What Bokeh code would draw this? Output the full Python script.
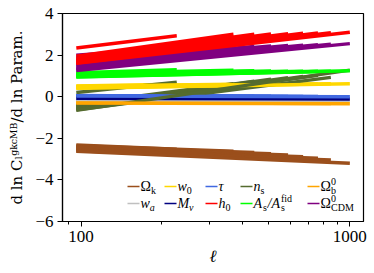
import numpy as np
from bokeh.plotting import figure
from bokeh.models import (FixedTicker, NumeralTickFormatter, Label, BoxAnnotation,
                          Range1d, ColumnDataSource)
from bokeh.embed import file_html
from bokeh.resources import INLINE

# ---------------- data ----------------
ell_min = 96
ell_max_bins = [227, 369, 441, 509, 589, 670, 761, 850, 1000]

omk_start = [-2.32, -2.36, -2.40, -2.44, -2.48, -2.52, -2.56, -2.60, -2.63]
omk_end = [-2.52, -2.62, -2.68, -2.74, -2.80, -2.88, -2.96, -3.04, -3.20]
wa_start = [-0.10, -0.11, -0.12, -0.12, -0.13, -0.13, -0.14, -0.14, -0.15]
wa_end = [-0.14, -0.15, -0.16, -0.17, -0.17, -0.18, -0.18, -0.19, -0.19]
w0_start = [0.52, 0.50, 0.48, 0.47, 0.46, 0.45, 0.44, 0.42, 0.40]
w0_end = [0.60, 0.60, 0.60, 0.60, 0.61, 0.61, 0.61, 0.62, 0.62]
mnu_start = [-0.05, -0.05, -0.06, -0.06, -0.06, -0.07, -0.07, -0.07, -0.08]
mnu_end = [-0.08, -0.09, -0.09, -0.09, -0.10, -0.10, -0.10, -0.11, -0.11]
tau_start = [0.06, 0.05, 0.05, 0.05, 0.04, 0.04, 0.04, 0.03, 0.03]
tau_end = [0.03, 0.02, 0.02, 0.02, 0.01, 0.01, 0.01, 0.00, 0.00]
h0_start = [2.34, 1.95, 1.85, 1.78, 1.72, 1.68, 1.64, 1.62, 1.60]
h0_end = [2.93, 3.00, 3.00, 3.02, 3.03, 3.05, 3.07, 3.08, 3.10]
ns_start = [0.20, -0.36, -0.42, -0.47, -0.52, -0.56, -0.60, -0.63, -0.66]
ns_end = [0.70, 0.62, 0.74, 0.84, 0.92, 0.98, 1.03, 0.93, 1.28]
As_start = [1.15, 1.12, 1.08, 1.05, 1.02, 1.00, 0.98, 0.96, 0.94]
As_end = [1.30, 1.27, 1.25, 1.24, 1.23, 1.22, 1.22, 1.22, 1.25]
omb_start = [-0.06, -0.10, -0.14, -0.18, -0.21, -0.24, -0.26, -0.28, -0.30]
omb_end = [-0.20, -0.24, -0.26, -0.28, -0.30, -0.31, -0.32, -0.33, -0.34]
omc_start = [2.00, 1.85, 1.72, 1.62, 1.52, 1.44, 1.37, 1.31, 1.26]
omc_end = [2.35, 2.40, 2.42, 2.44, 2.46, 2.48, 2.50, 2.52, 2.55]

param_keys = ["omk", "wa", "w0", "mnu", "tau", "h0", "ns", "As", "omb", "omc"]
param_start = [omk_start, wa_start, w0_start, mnu_start, tau_start,
               h0_start, ns_start, As_start, omb_start, omc_start]
param_end = [omk_end, wa_end, w0_end, mnu_end, tau_end,
             h0_end, ns_end, As_end, omb_end, omc_end]
param_colors = ["#9b4f1c", "#c0c0c0", "#ffd700", "#000080", "#4169e1",
                "#ff0000", "#556b2f", "#00ff00", "#ffa500", "#800080"]

y_ticks = [-6, -4, -2, 0, 2, 4]
x_ticks = [100, 1000]
x_minor = [90, 200, 300, 400, 500, 600, 700, 800, 900]

FONT = "Liberation Serif"

# ---------------- figure ----------------
p = figure(width=374, height=273, x_axis_type="log",
           x_range=Range1d(85.3, 1124), y_range=Range1d(-6, 4),
           output_backend="svg", toolbar_location=None,
           min_border_left=62, min_border_right=11,
           min_border_top=13, min_border_bottom=52)

for b, lmax in enumerate(ell_max_bins):
    xs, ys, cs = [], [], []
    for k in range(len(param_keys)):
        xs.append([ell_min, lmax])
        ys.append([param_start[k][b], param_end[k][b]])
        cs.append(param_colors[k])
    src = ColumnDataSource(dict(xs=xs, ys=ys, color=cs))
    p.multi_line(xs="xs", ys="ys", line_color="color", line_width=3.4,
                 line_cap="butt", source=src)

p.xgrid.visible = False
p.ygrid.visible = False
p.outline_line_color = "black"
p.outline_line_width = 1.2
p.background_fill_color = "white"
p.border_fill_color = "white"

p.xaxis.ticker = FixedTicker(ticks=x_ticks, minor_ticks=x_minor)
p.xaxis.formatter = NumeralTickFormatter(format="0")
p.yaxis.ticker = FixedTicker(ticks=y_ticks)
p.yaxis.major_label_overrides = {t: (str(t).replace("-", "\u2212")) for t in y_ticks}

for ax in (p.xaxis[0], p.yaxis[0]):
    ax.axis_line_color = "black"
    ax.axis_line_width = 1.2
    ax.major_tick_line_color = "black"
    ax.major_tick_in = 0
    ax.major_tick_out = 5
    ax.minor_tick_in = 0
    ax.minor_tick_out = 3
    ax.major_label_text_font = FONT
    ax.major_label_text_font_size = "17px"
    ax.major_label_text_color = "black"
    ax.axis_label_text_font = FONT
    ax.axis_label_text_font_size = "17px"
    ax.axis_label_text_color = "black"
    ax.axis_label_text_font_style = "normal"

p.yaxis.minor_tick_line_color = None
p.yaxis.major_label_standoff = 4
p.xaxis.major_label_standoff = 4
p.xaxis.axis_label = "\u2113"
p.xaxis.axis_label_text_font_style = "italic"
p.xaxis.axis_label_standoff = 2
p.yaxis.axis_label = "d ln C\u2097\u1d4d\u1d4f\u1d9c\u1d39\u1d2e/d ln Param."
p.yaxis.axis_label_text_font = "DejaVu Serif"
p.yaxis.axis_label_text_font_size = "15px"
p.yaxis.axis_label_standoff = 6

# ---------------- legend (screen units, relative to frame) ----------------
col_x = [65, 102, 143, 178, 245]
row_y = [35, 18]
leg_order = [0, 2, 4, 6, 8, 1, 3, 5, 7, 9]
leg_texts = {
    0: [(0, 0, "\u03a9", 14, "normal"), (10.5, -4, "k", 10, "normal")],
    1: [(0, 0, "w", 14, "italic"), (9.3, -4, "a", 10, "italic")],
    2: [(0, 0, "w", 14, "italic"), (9.3, -4, "0", 10, "normal")],
    3: [(0, 0, "M", 14, "italic"), (11.5, -4, "\u03bd", 10, "italic")],
    4: [(0, 0, "\u03c4", 14, "italic")],
    5: [(0, 0, "h", 14, "italic"), (7, -4, "0", 10, "normal")],
    6: [(0, 0, "n", 14, "italic"), (7, -4, "s", 10, "normal")],
    7: [(0, 0, "A", 14, "italic"), (9.5, -4, "s", 10, "normal"),
        (14, 0, "/A", 14, "italic"), (27.5, -4, "s", 10, "normal"),
        (27.5, 5, "fid", 10, "normal")],
    8: [(0, 0, "\u03a9", 14, "normal"), (10.5, 5, "0", 10, "normal"),
        (10.5, -4, "b", 10, "normal")],
    9: [(0, 0, "\u03a9", 14, "normal"), (10.5, 5, "0", 10, "normal"),
        (10.5, -4, "CDM", 10, "normal")],
}
for pos, k in enumerate(leg_order):
    r, c = divmod(pos, 5)
    hx, hy = col_x[c], row_y[r]
    p.add_layout(BoxAnnotation(left=hx, right=hx + 12, bottom=hy - 0.8, top=hy + 0.8,
                               left_units="screen", right_units="screen",
                               bottom_units="screen", top_units="screen",
                               fill_color=param_colors[k], fill_alpha=1.0,
                               line_color=None, level="overlay"))
    for dx, dy, txt, sz, st in leg_texts[k]:
        p.add_layout(Label(x=hx + 13 + dx, y=hy + dy, x_units="screen", y_units="screen",
                           text=txt, text_font=FONT, text_font_size=f"{sz}px",
                           text_font_style=st, text_baseline="middle",
                           text_align="left", text_color="black"))

open("out.html", "w").write(file_html(p, INLINE))
